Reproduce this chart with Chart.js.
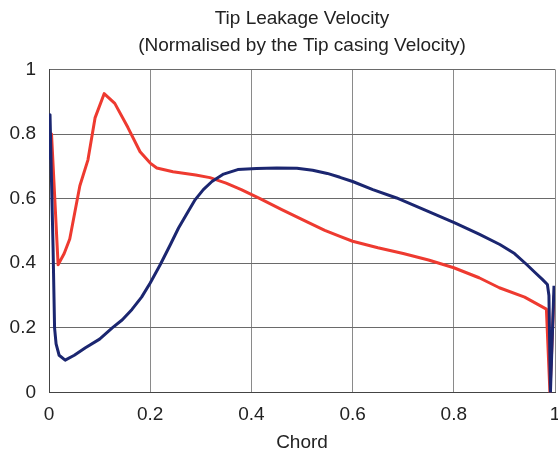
<!DOCTYPE html>
<html>
<head>
<meta charset="utf-8">
<script src="https://cdn.jsdelivr.net/npm/chart.js@4/dist/chart.umd.min.js"></script>
<style>
  html, body { margin: 0; padding: 0; background: #fff; }
  #wrap { width: 558px; height: 454px; }
</style>
</head>
<body>
<div id="wrap"><canvas id="tipChart"></canvas></div>
<script>
// values (chord position -> normalised velocity)
var blueChord = [0, 0.002, 0.004, 0.008, 0.011, 0.014, 0.02, 0.032, 0.05, 0.072, 0.1, 0.125, 0.145, 0.164, 0.183, 0.2, 0.22, 0.24, 0.256, 0.275, 0.289, 0.305, 0.322, 0.345, 0.373, 0.41, 0.45, 0.49, 0.521, 0.55, 0.575, 0.6, 0.64, 0.687, 0.74, 0.802, 0.85, 0.891, 0.92, 0.944, 0.96, 0.975, 0.985, 0.988, 0.991, 0.998];
var blueVel   = [0.72, 0.86, 0.72, 0.45, 0.2, 0.15, 0.115, 0.1, 0.115, 0.138, 0.165, 0.2, 0.225, 0.257, 0.295, 0.339, 0.396, 0.458, 0.509, 0.56, 0.597, 0.628, 0.653, 0.676, 0.69, 0.693, 0.695, 0.694, 0.688, 0.678, 0.666, 0.653, 0.628, 0.602, 0.567, 0.525, 0.49, 0.458, 0.43, 0.396, 0.372, 0.35, 0.334, 0.3, 0.0, 0.33];
var redChord  = [0, 0.005, 0.018, 0.03, 0.041, 0.061, 0.077, 0.091, 0.109, 0.13, 0.156, 0.18, 0.2, 0.213, 0.245, 0.29, 0.318, 0.35, 0.38, 0.417, 0.46, 0.51, 0.545, 0.575, 0.6, 0.65, 0.7, 0.75, 0.8, 0.85, 0.89, 0.94, 0.983, 0.99, 0.998];
var redVel    = [0.745, 0.8, 0.395, 0.43, 0.475, 0.64, 0.72, 0.85, 0.925, 0.895, 0.82, 0.745, 0.71, 0.695, 0.683, 0.673, 0.665, 0.648, 0.628, 0.6, 0.566, 0.528, 0.502, 0.483, 0.468, 0.448, 0.43, 0.41, 0.386, 0.355, 0.324, 0.295, 0.258, 0.0, 0.3];
var xTicks = [0, 0.2, 0.4, 0.6, 0.8, 1];
var yTicks = [0, 0.2, 0.4, 0.6, 0.8, 1];

function pts(xs, ys) {
  return xs.map(function(x, i) { return { x: x, y: ys[i] }; });
}

var font = "'Liberation Sans', Arial, sans-serif";

var config = {
  type: 'scatter',
  data: {
    datasets: [{
      label: 'blue',
      data: pts(blueChord, blueVel),
      showLine: true,
      borderColor: '#1b2670',
      borderWidth: 3,
      borderJoinStyle: 'round',
      pointRadius: 0
    }, {
      label: 'red',
      data: pts(redChord, redVel),
      showLine: true,
      borderColor: '#ee3a30',
      borderWidth: 3,
      borderJoinStyle: 'round',
      pointRadius: 0
    }]
  },
  options: {
    responsive: true,
    maintainAspectRatio: false,
    animation: false,
    layout: { padding: { left: 0, right: 0, top: 0, bottom: 0 } },
    plugins: {
      legend: { display: false },
      tooltip: { enabled: false },
      title: {
        display: true,
        fullSize: false,
        text: ['Tip Leakage Velocity', '(Normalised by the Tip casing Velocity)'],
        color: '#222',
        font: { family: font, size: 19, weight: 'normal', lineHeight: 1.38 },
        padding: { top: 6, bottom: 11 }
      }
    },
    scales: {
      x: {
        type: 'linear',
        min: 0, max: 1,
        afterBuildTicks: function(axis) { axis.ticks = xTicks.map(function(v) { return { value: v }; }); },
        afterFit: function(axis) { axis.paddingRight = 3; axis.paddingLeft = 0; },
        ticks: { color: '#222', font: { family: font, size: 19 }, padding: 0, maxRotation: 0,
                 callback: function(v) { return String(v); } },
        grid: { color: '#8a8a8a', lineWidth: 1, drawTicks: true, tickLength: 11, tickColor: 'rgba(0,0,0,0)' },
        border: { color: '#444', width: 1 },
        title: { display: true, text: 'Chord', color: '#222', font: { family: font, size: 19 }, padding: { top: 5, bottom: 0 } }
      },
      y: {
        type: 'linear',
        min: 0, max: 1,
        afterBuildTicks: function(axis) { axis.ticks = yTicks.map(function(v) { return { value: v }; }); },
        afterFit: function(axis) { axis.width = 49; },
        ticks: { color: '#222', font: { family: font, size: 19 }, padding: 13,
                 callback: function(v) { return String(v); } },
        grid: { color: '#6a6a6a', lineWidth: 1, drawTicks: false },
        border: { color: '#444', width: 1 }
      }
    }
  }
};

var ctx = document.getElementById('tipChart').getContext('2d');
var chart = new Chart(ctx, config);
</script>
</body>
</html>
